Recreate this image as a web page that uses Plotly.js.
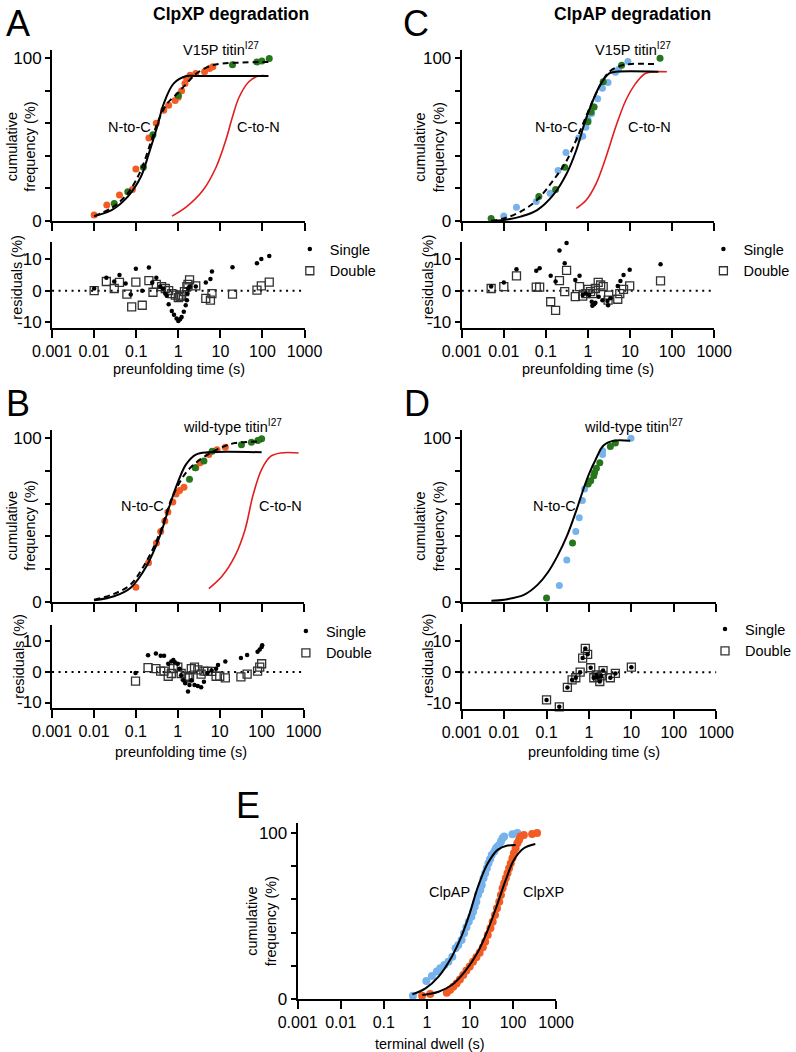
<!DOCTYPE html>
<html><head><meta charset="utf-8">
<script src="https://cdn.plot.ly/plotly-3.0.1.min.js"></script>
<style>html,body{margin:0;padding:0;background:#fff}#chart{width:796px;height:1052px}</style>
</head><body><div id="chart"></div>
<script>
// ---------- tick labels ----------
const xTickVals = [0.001, 0.01, 0.1, 1, 10, 100, 1000];
const xTickText = ['0.001', '0.01', '0.1', '1', '10', '100', '1000'];
const cumTickVals = [0, 100];
const cumTickText = ['0', '100'];
const cumMinorVals = [20, 40, 60, 80];
const resTickVals = [-10, 0, 10];
const resTickText = ['-10', '0', '10'];

// ---------- Panel A (ClpXP, V15P titin I27) ----------
const aFitNCX = [0.01, 0.026, 0.063, 0.128, 0.20, 0.316, 0.45, 0.78, 1.58, 2.7, 138];
const aFitNCY = [3, 6.7, 15, 27, 41.5, 58, 72, 84.5, 89, 89, 89];
const aFitDashX = [0.01, 0.026, 0.063, 0.128, 0.22, 0.34, 0.54, 0.92, 1.58, 2.7, 5.5, 11.3, 33, 138];
const aFitDashY = [3, 8, 17, 31, 48, 62, 72, 78, 84.5, 90.6, 95, 96.7, 97.3, 97.7];
const aFitCNX = [0.71, 1.58, 3.9, 7.9, 13.6, 19.4, 27.8, 47.5, 81, 138];
const aFitCNY = [3, 8.8, 19, 33, 50, 64, 76, 85.5, 89, 89];
const aOrangeX = [0.01, 0.020, 0.040, 0.081, 0.098, 0.20, 0.30, 0.45, 0.59, 0.84, 1.0, 1.2, 1.44, 1.58, 1.9, 2.6, 4.2, 5.5, 6.6];
const aOrangeY = [3.7, 9.8, 16, 19.4, 32, 51, 60, 68, 71, 74, 76, 80, 84.5, 87.5, 89.5, 90.6, 91.6, 93.7, 94.7];
const aGreenX = [0.030, 0.063, 0.148, 0.25, 1.0, 19.4, 74, 97, 145];
const aGreenY = [10.8, 18, 33, 53, 77, 96, 97.7, 98.3, 99.8];
const aResX = [0.01, 0.0195, 0.030, 0.040, 0.056, 0.074, 0.098, 0.139, 0.20, 0.24, 0.30, 0.37, 0.43, 0.49, 0.53, 0.59, 0.70, 0.79, 0.91, 1.0, 1.1, 1.2, 1.35, 1.5, 1.6, 1.65, 1.7, 1.85, 2.6, 4.5, 5.8, 6.3, 19.4, 74, 94, 145];
const aSingle = [0.7, 4.1, 2.9, 5.0, 2.3, -1.2, 6.9, 0, 7.3, 2.6, 4.1, 1.3, 0.7, -0.9, -1.6, -4.3, -6.4, -7.6, -8.8, -9.6, -9.0, -8.3, -6.7, -4.6, -3.0, -0.9, 0.7, 1.3, 1.3, 2.6, 3.7, 6.1, 7.4, 8.7, 10, 11];
const aDblX = [0.01, 0.0195, 0.030, 0.040, 0.060, 0.078, 0.098, 0.139, 0.20, 0.25, 0.30, 0.40, 0.49, 0.59, 0.70, 0.85, 1.0, 1.1, 1.2, 1.4, 1.6, 1.7, 1.85, 2.6, 4.5, 5.8, 6.3, 19.4, 74, 94, 145];
const aDouble = [0, 2.9, 0.7, 2.6, -1.1, -5.1, 2.7, -4.6, 3.2, -0.5, 2.0, 1.3, 0.7, 0, -0.9, -1.4, -2.2, -1.9, -1.4, -0.3, 1.3, 2.0, 3.4, 1.5, -2.4, -3.0, -0.9, -1.1, 0.2, 1.5, 2.7];

// ---------- Panel C (ClpAP, V15P titin I27) ----------
const cFitNCX = [0.005, 0.01, 0.025, 0.062, 0.15, 0.31, 0.53, 0.83, 1.31, 2.05, 3.2, 4.6, 47];
const cFitNCY = [0, 0.6, 2.7, 6.7, 16, 29, 43.6, 60, 74, 84.5, 90.6, 91.6, 91.6];
const cFitDashX = [0.005, 0.01, 0.025, 0.062, 0.15, 0.31, 0.53, 0.83, 1.31, 2.05, 3.2, 5.5, 9.3, 40];
const cFitDashY = [0, 1.6, 5.7, 13, 25, 37, 50, 62, 74, 84.5, 91.6, 95, 96.3, 96.3];
const cFitCNX = [0.53, 0.91, 1.56, 2.7, 4.6, 7.9, 13.6, 23, 40, 75];
const cFitCNY = [7.8, 12.9, 23, 39.5, 58, 74, 84.5, 90.6, 91.6, 91.6];
const cBlueX = [0.01, 0.020, 0.059, 0.126, 0.195, 0.30, 0.60, 0.75, 0.89, 1.0, 1.23, 1.35, 1.7, 2.2, 3.0, 4.5, 5.3, 8.9];
const cBlueY = [3, 8.4, 12, 17, 31, 42, 51, 52, 57.6, 62.5, 66, 70, 75, 81.5, 85, 91.4, 93, 98];
const cGreenX = [0.005, 0.068, 0.17, 0.28, 1.0, 1.18, 1.4, 2.3, 6.3, 51.6];
const cGreenY = [1.6, 15, 19.4, 33, 61, 67, 70, 85.5, 95.7, 100];
const cResX = [0.005, 0.01, 0.020, 0.059, 0.071, 0.13, 0.17, 0.21, 0.28, 0.31, 0.50, 0.63, 0.75, 0.89, 1.07, 1.23, 1.27, 1.4, 1.5, 1.8, 2.2, 2.9, 3.0, 3.4, 5.1, 5.9, 7.0, 9.8, 53];
const cSingle = [1.3, 2.6, 6.8, 6.3, 7.1, 4.7, 2.9, 12.7, 8.7, 15.1, 3.4, 4.7, -1.4, -0.9, -1.4, -3.5, -4.8, -4.3, -3.8, -1.9, -3.0, -3.3, -4.6, -2.4, 1.5, 3.1, 5.0, 6.6, 8.4];
const cDblX = [0.005, 0.01, 0.020, 0.059, 0.071, 0.13, 0.17, 0.21, 0.28, 0.31, 0.50, 0.63, 0.75, 0.89, 1.0, 1.15, 1.3, 1.5, 1.75, 2.0, 2.3, 3.0, 3.1, 5.1, 5.7, 7.0, 9.8, 53];
const cDouble = [0.7, 1.3, 4.7, 1.1, 1.1, -3.5, -6.2, 3.2, -0.3, 6.4, -1.9, 1.3, -1.7, -0.9, 0.4, -0.3, -0.9, 0.7, 2.6, 1.8, 1.3, -3.0, -1.4, -2.7, -0.9, 0.4, 1.5, 3.1];

// ---------- Panel B (ClpXP, wild-type titin I27) ----------
const bFitNCX = [0.01, 0.030, 0.074, 0.18, 0.37, 0.64, 1.0, 1.57, 2.7, 5.5, 100];
const bFitNCY = [1, 3.5, 8.6, 22, 40, 59, 73, 84, 90, 91.4, 91.4];
const bFitDashX = [0.01, 0.030, 0.074, 0.18, 0.37, 0.64, 1.0, 1.57, 2.7, 5.5, 11.3, 23, 100];
const bFitDashY = [1.4, 5, 10.6, 25, 42, 60, 71, 79, 85, 90.4, 94.5, 97, 98];
const bFitCNX = [5.5, 11.3, 23, 40, 62, 100, 166, 286, 760];
const bFitCNY = [8.2, 15.7, 28, 44, 65, 81, 89, 91, 91];
const bOrangeX = [0.10, 0.20, 0.31, 0.39, 0.49, 0.58, 0.76, 0.91, 1.1, 1.4, 2.7, 3.4, 5.5, 8.6, 13.6];
const bOrangeY = [9, 24, 36, 43, 49.5, 55, 61, 66, 68, 70, 82, 85, 90, 93, 94.5];
const bGreenX = [1.9, 2.6, 4.2, 6.6, 33, 57, 81, 100];
const bGreenY = [75, 82, 86, 92, 96, 97.5, 98.6, 99.6];
const bResX = [0.098, 0.195, 0.30, 0.39, 0.47, 0.59, 0.70, 0.78, 0.85, 1.0, 1.1, 1.2, 1.35, 1.5, 1.75, 1.9, 2.1, 2.5, 3.0, 3.6, 4.2, 5.1, 6.4, 8.2, 9.1, 13.6, 32, 45, 80, 90, 100, 103];
const bSingle = [-0.3, 5.5, 6.1, 5.3, 5.3, 2.7, 3.4, 3.9, 3.2, 2.7, 1.1, -1.1, -2.7, -3.7, -6.4, -4.3, -2.7, -4.3, -4.6, -5.0, -3.2, -0.3, 0.5, 1.1, 2.3, 3.4, 4.6, 5.6, 6.6, 7.4, 8.2, 8.8];
const bDblX = [0.098, 0.195, 0.30, 0.39, 0.47, 0.59, 0.70, 0.78, 1.0, 1.2, 1.5, 1.75, 1.9, 2.1, 2.5, 3.0, 3.6, 4.2, 5.1, 6.4, 8.2, 10, 13.6, 32, 45, 80, 90, 100];
const bDouble = [-3.0, 1.4, 1.1, 0.3, 0.3, -1.4, -0.5, 1.1, 1.6, -0.5, -1.4, -1.9, -1.8, 1.1, 1.6, 0.7, -0.7, 0.3, 0.2, 0.2, -1.4, -1.4, -1.9, -1.6, -0.7, 0.3, 1.6, 2.7];

// ---------- Panel D (ClpAP, wild-type titin I27) ----------
const dFitX = [0.005, 0.01, 0.030, 0.062, 0.107, 0.18, 0.31, 0.49, 0.70, 1.0, 1.44, 2.2, 3.8, 9.4];
const dFitY = [0.8, 1.4, 4.5, 10.6, 18, 28, 41, 55, 67, 78, 87, 95.5, 98.4, 98.4];
const dBlueX = [0.20, 0.30, 0.49, 0.59, 0.70, 0.79, 2.1, 2.1, 9.8];
const dBlueY = [10, 25.6, 43, 51.5, 62, 69, 90, 92.4, 100];
const dGreenX = [0.10, 0.41, 0.96, 1.1, 1.3, 1.36, 1.5, 1.8, 3.2, 4.2];
const dGreenY = [2.5, 36, 72, 74, 77, 79, 81.6, 85, 95, 97];
const dResX = [0.10, 0.20, 0.31, 0.40, 0.49, 0.62, 0.71, 0.82, 0.93, 1.1, 1.3, 1.5, 1.6, 1.8, 1.95, 2.15, 3.2, 4.2, 10];
const dSingle = [-8.9, -11.1, -4.9, -2.5, -1.8, 0, 4.5, 7.6, 5.7, 1.4, -1.8, -0.9, -1.6, -3.0, -1.2, 0.5, -1.8, -0.4, 1.6];
const dDouble = [-8.9, -11.1, -4.9, -2.5, -1.8, 0, 4.5, 7.6, 5.7, 1.4, -1.8, -0.9, -1.6, -3.0, -1.2, 0.5, -1.8, -0.4, 1.6];

// ---------- Panel E (terminal dwell) ----------
const eFitAPX = [0.46, 0.93, 1.87, 3.8, 6.3, 9.9, 15.4, 26, 44, 74, 115];
const eFitAPY = [2.8, 6.4, 13.5, 25.5, 37.5, 51.6, 67.7, 81.7, 89.8, 92.4, 92.8];
const eFitXPX = [0.78, 1.87, 3.8, 7.6, 15.4, 26, 44, 68, 105, 178, 330];
const eFitXPY = [2.4, 4.4, 8.4, 16.5, 28.5, 41.6, 57.6, 71.7, 83.7, 90.8, 93.4];
const eBlueX = [0.475, 0.975, 1.31, 1.71, 2.04, 2.56, 3.16, 3.9, 4.65, 5.36, 6.4, 7.3, 8.3, 9.4, 10.8, 11.8, 12.9, 14.1, 15.4, 17.4, 18.9, 20.7, 22.6, 24.7, 26.9, 29.4, 32.1, 36.9, 40.3, 44, 47.9, 52.5, 57.1, 62.4, 97, 126];
const eBlueY = [2.0, 10.8, 13.9, 16.5, 18.5, 20.5, 22.5, 25.5, 30.5, 32.5, 35.5, 39.6, 43.2, 46.6, 49.6, 52.6, 55.6, 58.6, 62.7, 65.7, 68.7, 72.7, 75.7, 78.7, 81.7, 84.1, 86.7, 88.8, 90.8, 91.8, 92.8, 94.8, 96.8, 97.8, 99.2, 100];
const eOrangeX = [0.775, 1.2, 2.9, 3.45, 4.1, 4.9, 5.85, 7.0, 8.3, 9.9, 11.8, 14.1, 16.8, 20, 22.6, 26, 29.9, 33.8, 38.2, 42.5, 48, 52.5, 57.3, 62.5, 68.2, 74.5, 81.3, 88.8, 96.9, 105, 115, 126, 138, 150, 179, 278, 363];
const eOrangeY = [2.0, 3.0, 3.8, 5.4, 7.4, 9.4, 11.8, 14.5, 17.1, 19.5, 22.5, 25.1, 27.9, 31.1, 34.5, 38.6, 42.6, 46.6, 50.6, 54.6, 58.6, 62.7, 66.7, 69.7, 72.7, 75.7, 78.7, 81.7, 84.7, 87.8, 90.8, 93.8, 95.8, 97.8, 98.8, 99.4, 100];

// ---------- styling ----------
const W = 796, H = 1052;
const FONT = 'Liberation Sans, Arial, Helvetica, sans-serif';
const ORANGE = 'rgb(242,92,36)', GREEN = 'rgb(38,118,28)', BLUE = 'rgb(118,178,236)', RED = 'rgb(226,30,30)';
const fx = p => p / W;
const fy = p => 1 - p / H;

function xAx(l, r, anchor, labels) {
  return {
    domain: [fx(l), fx(r)], anchor: anchor, type: 'log', range: [-3, 3],
    tickmode: 'array', tickvals: xTickVals, ticktext: xTickText, showticklabels: labels,
    ticks: 'outside', ticklen: 8, tickwidth: 2, tickcolor: '#000',
    showline: true, linewidth: 2, linecolor: '#000', showgrid: false, zeroline: false,
    tickfont: { size: 16, color: '#000', family: FONT }, fixedrange: true
  };
}
function yAx(t, b, anchor, range, vals, text, minorVals) {
  const ax = {
    domain: [fy(b), fy(t)], anchor: anchor, range: range,
    tickmode: 'array', tickvals: vals, ticktext: text,
    ticks: 'outside', ticklen: 5, tickwidth: 2, tickcolor: '#000',
    showline: true, linewidth: 2, linecolor: '#000', showgrid: false, zeroline: false,
    tickfont: { size: 17, color: '#000', family: FONT }, fixedrange: true
  };
  if (minorVals) {
    ax.minor = { tickmode: 'array', tickvals: minorVals, ticks: 'outside', ticklen: 5, tickwidth: 2, tickcolor: '#000', showgrid: false };
  }
  return ax;
}

const traces = [];
function dots(x, y, color, xa, ya, size) {
  traces.push({ x: x, y: y, xaxis: xa, yaxis: ya, type: 'scatter', mode: 'markers',
    marker: { size: size || 7, color: color }, showlegend: false, hoverinfo: 'skip' });
}
function fit(x, y, color, width, dash, xa, ya) {
  traces.push({ x: x, y: y, xaxis: xa, yaxis: ya, type: 'scatter', mode: 'lines',
    line: { color: color, width: width, dash: dash, shape: 'spline', smoothing: 1 }, showlegend: false, hoverinfo: 'skip' });
}
function resid(x1, s, x2, d, xa, ya, leg) {
  traces.push({ x: x2, y: d, xaxis: xa, yaxis: ya, type: 'scatter', mode: 'markers', name: 'Double',
    marker: { symbol: 'square-open', size: 8, color: 'rgb(50,50,50)', line: { width: 1.3 } },
    legend: leg, legendrank: 2, hoverinfo: 'skip', cliponaxis: false });
  traces.push({ x: x1, y: s, xaxis: xa, yaxis: ya, type: 'scatter', mode: 'markers', name: 'Single',
    marker: { symbol: 'circle', size: 4.5, color: '#000' },
    legend: leg, legendrank: 1, hoverinfo: 'skip', cliponaxis: false });
}

// A
dots(aOrangeX, aOrangeY, ORANGE, 'x', 'y');
dots(aGreenX, aGreenY, GREEN, 'x', 'y');
fit(aFitCNX, aFitCNY, RED, 1.6, 'solid', 'x', 'y');
fit(aFitNCX, aFitNCY, '#000', 2, 'solid', 'x', 'y');
fit(aFitDashX, aFitDashY, '#000', 2, '6px,4px', 'x', 'y');
resid(aResX, aSingle, aDblX, aDouble, 'x2', 'y2', 'legend');
// C
dots(cBlueX, cBlueY, BLUE, 'x3', 'y3');
dots(cGreenX, cGreenY, GREEN, 'x3', 'y3');
fit(cFitCNX, cFitCNY, RED, 1.6, 'solid', 'x3', 'y3');
fit(cFitNCX, cFitNCY, '#000', 2, 'solid', 'x3', 'y3');
fit(cFitDashX, cFitDashY, '#000', 2, '6px,4px', 'x3', 'y3');
resid(cResX, cSingle, cDblX, cDouble, 'x4', 'y4', 'legend2');
// B
dots(bOrangeX, bOrangeY, ORANGE, 'x5', 'y5');
dots(bGreenX, bGreenY, GREEN, 'x5', 'y5');
fit(bFitCNX, bFitCNY, RED, 1.6, 'solid', 'x5', 'y5');
fit(bFitNCX, bFitNCY, '#000', 2, 'solid', 'x5', 'y5');
fit(bFitDashX, bFitDashY, '#000', 2, '6px,4px', 'x5', 'y5');
resid(bResX, bSingle, bDblX, bDouble, 'x6', 'y6', 'legend3');
// D
dots(dBlueX, dBlueY, BLUE, 'x7', 'y7');
dots(dGreenX, dGreenY, GREEN, 'x7', 'y7');
fit(dFitX, dFitY, '#000', 2, 'solid', 'x7', 'y7');
resid(dResX, dSingle, dResX, dDouble, 'x8', 'y8', 'legend4');
// E
dots(eBlueX, eBlueY, BLUE, 'x9', 'y9', 8);
dots(eOrangeX, eOrangeY, ORANGE, 'x9', 'y9', 8);
fit(eFitAPX, eFitAPY, '#000', 2, 'solid', 'x9', 'y9');
fit(eFitXPX, eFitXPY, '#000', 2, 'solid', 'x9', 'y9');

// ---------- annotations ----------
const ann = [];
function txt(text, px, py, size, opts) {
  ann.push(Object.assign({ text: text, x: fx(px), y: fy(py), xref: 'paper', yref: 'paper',
    showarrow: false, xanchor: 'center', yanchor: 'middle',
    font: { family: FONT, size: size, color: '#000' } }, opts || {}));
}
// panel letters
txt('A', 4, 23, 36, { xanchor: 'left' });
txt('C', 408, 23, 36, { xanchor: 'left' });
txt('B', 4, 403, 36, { xanchor: 'left' });
txt('D', 409, 403, 36, { xanchor: 'left' });
txt('E', 238, 805, 36, { xanchor: 'left' });
// titles
txt('<b>ClpXP degradation</b>', 235, 14, 17.5);
txt('<b>ClpAP degradation</b>', 644, 14, 17.5);
// curve labels
txt('V15P titin<sup>I27</sup>', 225, 49, 14.5);
txt('N-to-C', 132, 127, 14.5);
txt('C-to-N', 263, 127, 14.5);
txt('V15P titin<sup>I27</sup>', 644, 49, 14.5);
txt('N-to-C', 566, 127, 14.5);
txt('C-to-N', 661, 127, 14.5);
txt('wild-type titin<sup>I27</sup>', 237, 426, 14.5);
txt('N-to-C', 145, 506, 14.5);
txt('C-to-N', 286, 506, 14.5);
txt('wild-type titin<sup>I27</sup>', 645, 426, 14.5);
txt('N-to-C', 564, 506, 14.5);
txt('ClpAP', 458, 892, 14.5);
txt('ClpXP', 553, 892, 14.5);
// axis titles
const cumTitle = 'cumulative<br>frequency (%)';
txt(cumTitle, 21, 147, 14.5, { textangle: -90 });
txt(cumTitle, 437, 147, 14.5, { textangle: -90 });
txt(cumTitle, 21, 526, 14.5, { textangle: -90 });
txt(cumTitle, 437, 526, 14.5, { textangle: -90 });
txt(cumTitle, 266, 921, 14.5, { textangle: -90 });
txt('residuals (%)', 17, 277, 14.5, { textangle: -90 });
txt('residuals (%)', 436, 277, 14.5, { textangle: -90 });
txt('residuals (%)', 19, 656, 14.5, { textangle: -90 });
txt('residuals (%)', 436, 656, 14.5, { textangle: -90 });
txt('preunfolding time (s)', 182, 369, 14.5);
txt('preunfolding time (s)', 599, 369, 14.5);
txt('preunfolding time (s)', 184, 752, 14.5);
txt('preunfolding time (s)', 605, 752, 14.5);
txt('terminal dwell (s)', 438, 1044, 14.5);

// ---------- zero lines in residual plots ----------
const shapes = [['x2', 'y2'], ['x4', 'y4'], ['x6', 'y6'], ['x8', 'y8']].map(([xa, ya]) => ({
  type: 'line', xref: xa + ' domain', yref: ya, x0: 0, x1: 1, y0: 0, y1: 0,
  line: { color: '#000', width: 2, dash: '2px,4.5px' }, layer: 'below'
}));

function leg(px, py) {
  return { x: fx(px), y: fy(py), xanchor: 'left', yanchor: 'top', bgcolor: 'rgba(0,0,0,0)',
    font: { family: FONT, size: 14.5, color: '#000' }, traceorder: 'normal', itemwidth: 30 };
}

const RES_RANGE = [-11.8, 15.4];
const layout = {
  width: W, height: H, margin: { l: 0, r: 0, t: 0, b: 0 },
  paper_bgcolor: '#fff', plot_bgcolor: 'rgba(0,0,0,0)',
  font: { family: FONT, color: '#000' },
  showlegend: true,
  xaxis: xAx(53, 310, 'y', false), yaxis: yAx(50, 221, 'x', [0, 105], cumTickVals, cumTickText, cumMinorVals),
  xaxis2: xAx(53, 310, 'y2', true), yaxis2: yAx(242, 328, 'x2', RES_RANGE, resTickVals, resTickText),
  xaxis3: xAx(470, 727, 'y3', false), yaxis3: yAx(50, 221, 'x3', [0, 105], cumTickVals, cumTickText, cumMinorVals),
  xaxis4: xAx(470, 727, 'y4', true), yaxis4: yAx(242, 328, 'x4', RES_RANGE, resTickVals, resTickText),
  xaxis5: xAx(53, 309, 'y5', false), yaxis5: yAx(430, 602, 'x5', [0, 105], cumTickVals, cumTickText, cumMinorVals),
  xaxis6: xAx(53, 309, 'y6', true), yaxis6: yAx(625, 708, 'x6', RES_RANGE, resTickVals, resTickText),
  xaxis7: xAx(470, 729, 'y7', false), yaxis7: yAx(430, 602, 'x7', [0, 105], cumTickVals, cumTickText, cumMinorVals),
  xaxis8: xAx(470, 729, 'y8', true), yaxis8: yAx(624, 709, 'x8', RES_RANGE, resTickVals, resTickText),
  xaxis9: xAx(303, 566, 'y9', true), yaxis9: yAx(823, 999, 'x9', [0, 106], cumTickVals, cumTickText, cumMinorVals),
  legend: leg(295, 233), legend2: leg(716, 233), legend3: leg(291, 615), legend4: leg(718, 613),
  annotations: ann, shapes: shapes
};

Plotly.newPlot('chart', traces, layout, { staticPlot: true, displayModeBar: false });
</script></body></html>
